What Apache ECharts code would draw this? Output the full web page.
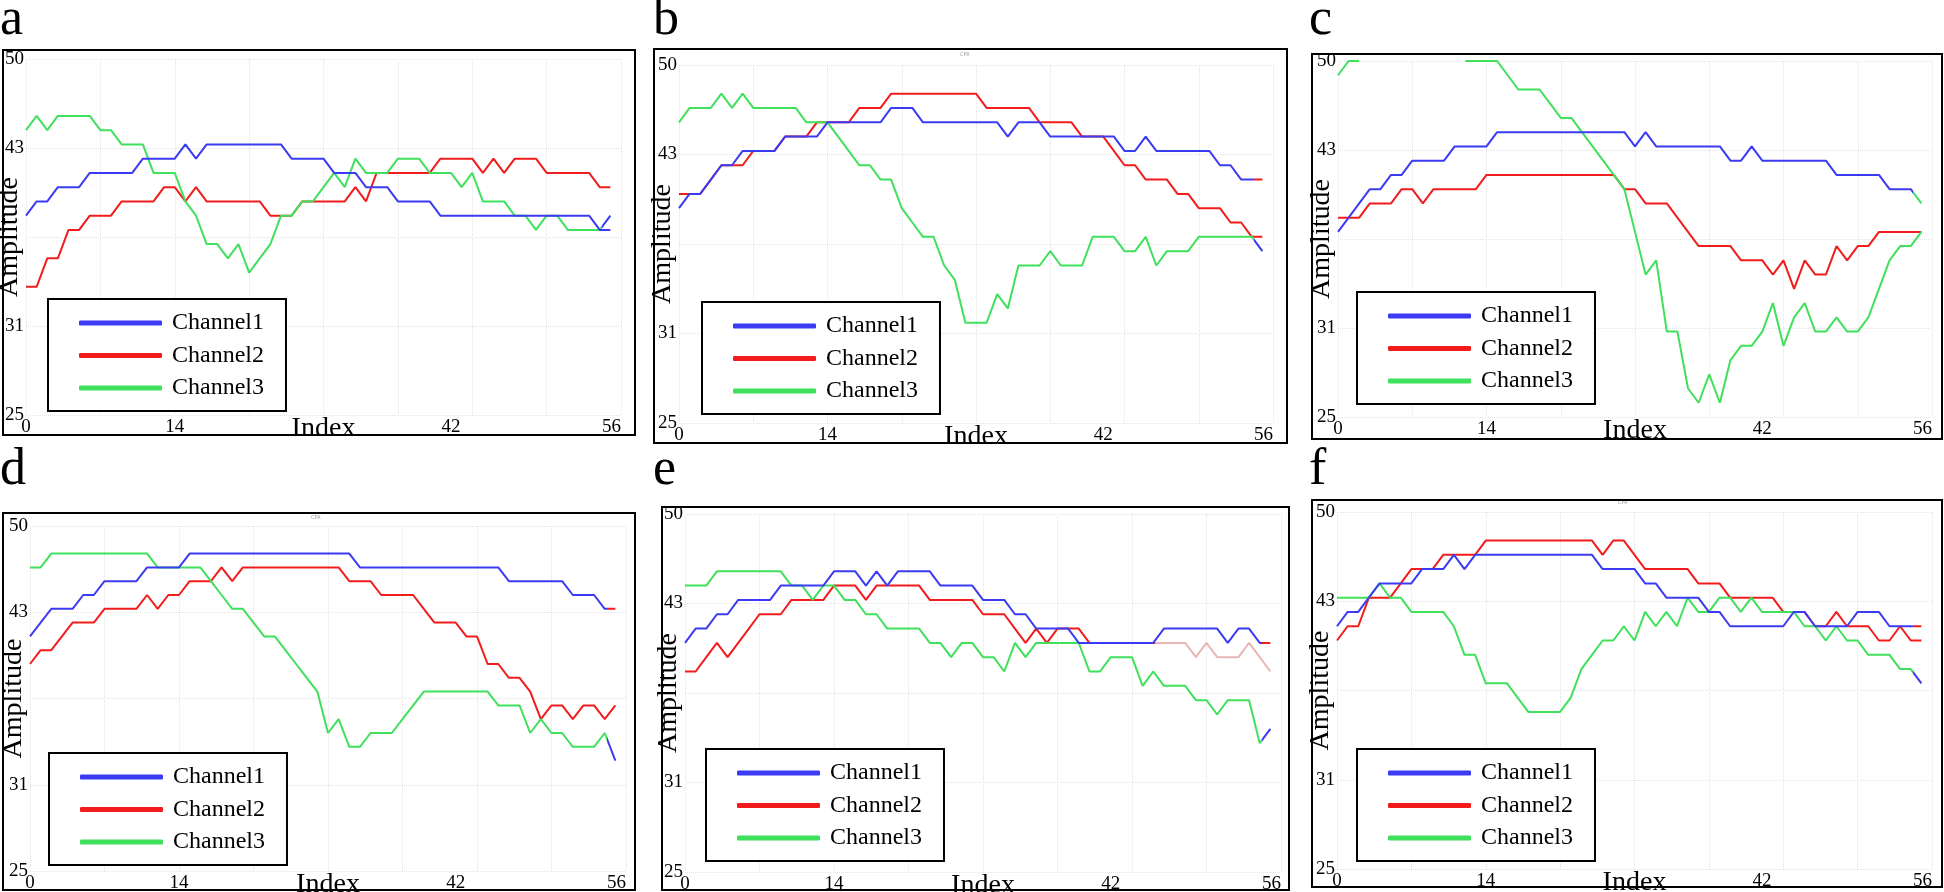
<!DOCTYPE html>
<html><head><meta charset="utf-8">
<script src="https://cdn.jsdelivr.net/npm/echarts@6/dist/echarts.min.js"></script>
<style>html,body{margin:0;padding:0;background:#fff}#c{width:1944px;height:892px}</style>
</head><body><div id="c"></div>
<script>
// ---------- data ----------
const CHANNELS = ['Channel1', 'Channel2', 'Channel3'];
const PANEL_LETTERS = ['a', 'b', 'c', 'd', 'e', 'f'];
const X_TICK_VALUES = [0, 14, 40, 56];
const X_TICK_LABELS = ['0', '14', '42', '56'];
const Y_TICK_VALUES = [25, 31.25, 43.75, 50];
const Y_TICK_LABELS = ['25', '31', '43', '50'];

const A1 = [39,40,40,41,41,41,42,42,42,42, 42,43,43,43,43,44,43,44,44,44, 44,44,44,44,44,43,43,43,43,42, 42,42,41,41,41,40,40,40,40,39, 39,39,39,39,39,39,39,39,39,39, 39,39,39,39,38,38];
const A2 = [34,34,36,36,38,38,39,39,39,40, 40,40,40,41,41,40,41,40,40,40, 40,40,40,39,39,39,40,40,40,40, 40,41,40,42,42,42,42,42,42,43, 43,43,43,42,43,42,43,43,43,42, 42,42,42,42,41,41];
const A3 = [45,46,45,46,46,46,46,45,45,44, 44,44,42,42,42,40,39,37,37,36, 37,35,36,37,39,39,40,40,41,42, 41,43,42,42,42,43,43,43,42,42, 42,41,42,40,40,40,39,39,38,39, 39,38,38,38,38,39];

const B1 = [40,41,41,42,43,43,44,44,44,44, 45,45,45,45,46,46,46,46,46,46, 47,47,47,46,46,46,46,46,46,46, 46,45,46,46,46,45,45,45,45,45, 45,45,44,44,45,44,44,44,44,44, 44,43,43,42,42,42];
const B2 = [41,41,41,42,43,43,43,44,44,44, 45,45,45,46,46,46,46,47,47,47, 48,48,48,48,48,48,48,48,48,47, 47,47,47,47,46,46,46,46,45,45, 45,44,43,43,42,42,42,41,41,40, 40,40,39,39,38,38];
const B3 = [46,47,47,47,48,47,48,47,47,47, 47,47,46,46,46,45,44,43,43,42, 42,40,39,38,38,36,35,32,32,32, 34,33,36,36,36,37,36,36,36,38, 38,38,37,37,38,36,37,37,37,38, 38,38,38,38,38,37];

const C1 = [38,39,40,41,41,42,42,43,43,43, 43,44,44,44,44,45,45,45,45,45, 45,45,45,45,45,45,45,45,44,45, 44,44,44,44,44,44,44,43,43,44, 43,43,43,43,43,43,43,42,42,42, 42,42,41,41,41,40];
const C2 = [39,39,39,40,40,40,41,41,40,41, 41,41,41,41,42,42,42,42,42,42, 42,42,42,42,42,42,42,41,41,40, 40,40,39,38,37,37,37,37,36,36, 36,35,36,34,36,35,35,37,36,37, 37,38,38,38,38,38];
// values above the top of the axis are not visible in the picture
const C3 = [49,50,50,null,null,null,null,null,null,null, null,null,50,50,50,50,49,48,48,48, 47,46,46,45,44,43,42,41,38,35, 36,31,31,27,26,28,26,29,30,30, 31,33,30,32,33,31,31,32,31,31, 32,34,36,37,37,38];

const D1 = [42,43,44,44,44,45,45,46,46,46, 46,47,47,47,47,48,48,48,48,48, 48,48,48,48,48,48,48,48,48,48, 48,47,47,47,47,47,47,47,47,47, 47,47,47,47,47,46,46,46,46,46, 46,45,45,45,44,44];
const D2 = [40,41,41,42,43,43,43,44,44,44, 44,45,44,45,45,46,46,46,47,46, 47,47,47,47,47,47,47,47,47,47, 46,46,46,45,45,45,45,44,43,43, 43,42,42,40,40,39,39,38,36,37, 37,36,37,37,36,37];
const D3 = [47,47,48,48,48,48,48,48,48,48, 48,48,47,47,47,47,47,46,45,44, 44,43,42,42,41,40,39,38,35,36, 34,34,35,35,35,36,37,38,38,38, 38,38,38,38,37,37,37,35,36,35, 35,34,34,34,35,33];

const E1 = [41,42,42,43,43,44,44,44,44,45, 45,45,45,45,46,46,46,45,46,45, 46,46,46,46,45,45,45,45,44,44, 44,43,43,42,42,42,42,41,41,41, 41,41,41,41,41,42,42,42,42,42, 42,41,42,42,41,41];
const E2 = [39,39,40,41,40,41,42,43,43,43, 44,44,44,44,45,45,45,44,45,45, 45,45,45,44,44,44,44,44,43,43, 43,42,41,42,41,42,42,42,41,41, 41,41,41,41,41,41,41,41,40,41, 40,40,40,41,40,39];
const E3 = [45,45,45,46,46,46,46,46,46,46, 45,45,44,45,45,44,44,43,43,42, 42,42,42,41,41,40,41,41,40,40, 39,41,40,41,41,41,41,41,39,39, 40,40,40,38,39,38,38,38,37,37, 36,37,37,37,34,35];

const F1 = [42,43,43,44,45,45,45,45,46,46, 46,47,46,47,47,47,47,47,47,47, 47,47,47,47,47,46,46,46,46,45, 45,44,44,44,44,43,43,42,42,42, 42,42,42,43,43,42,42,42,42,43, 43,43,42,42,42,42];
const F2 = [41,42,42,44,44,44,45,46,46,46, 47,47,47,47,48,48,48,48,48,48, 48,48,48,48,48,47,48,48,47,46, 46,46,46,46,45,45,45,44,44,44, 44,44,43,43,43,42,42,43,42,42, 42,41,41,42,41,41];
const F3 = [44,44,44,44,45,44,44,43,43,43, 43,42,40,40,38,38,38,37,36,36, 36,36,37,39,40,41,41,42,41,43, 42,43,42,44,43,43,44,44,43,44, 43,43,43,43,42,42,41,42,41,41, 40,40,40,39,39,38];

const PANEL_DATA = [[A1,A2,A3],[B1,B2,B3],[C1,C2,C3],[D1,D2,D3],[E1,E2,E3],[F1,F2,F3]];

// ---------- styling / layout ----------
const COLORS = ['#3b3bf3', '#f21c1c', '#3fe05c'];
const FADED_RED = '#e8b6b6';
const FONT = 'Liberation Serif';
const LAYOUT = [
  {grid:[26,59,595,356],  frame:[3,50,632,385],   legend:[48,299],  letter:[0,-6],   cfr:null},
  {grid:[679,65,594,358], frame:[654,49,633,394], legend:[702,302], letter:[653,-6], cfr:[960,52]},
  {grid:[1338,61,594,356],frame:[1312,54,630,385],legend:[1357,292],letter:[1309,-6],cfr:null},
  {grid:[30,526,596,345], frame:[3,513,632,377],  legend:[49,753],  letter:[0,444],  cfr:[311,515]},
  {grid:[685,514,596,358],frame:[662,507,627,383],legend:[706,749], letter:[653,444],cfr:null},
  {grid:[1337,512,595,357],frame:[1312,500,630,387],legend:[1357,749],letter:[1309,444],cfr:[1618,500]}
];
// colour index used for the final segment of each channel, as rendered in the original
const LAST_SEGMENT_COLOR = [[0,1,0],[1,1,0],[2,1,2],[1,1,0],[1,1,0],[1,1,0]];
// panel e, Channel2 turns pale from this index onward
const FADE_PANEL = 4, FADE_CHANNEL = 1, FADE_FROM = 44;

function hGradient(stops) {
  return {type:'linear', x:0, y:0, x2:1, y2:0, colorStops:stops};
}

const grids = [], xAxes = [], yAxes = [], series = [], legends = [], titles = [], graphics = [];
const splitLine = {show:true, lineStyle:{color:'#e4e4e4', width:1, type:'dotted'}};

LAYOUT.forEach((L, p) => {
  grids.push({left:L.grid[0], top:L.grid[1], width:L.grid[2], height:L.grid[3], outerBoundsMode:'none', containLabel:false});
  xAxes.push({
    type:'value', gridIndex:p, min:0, max:56, interval:7,
    axisLine:{show:false}, axisTick:{show:false}, splitLine,
    axisLabel:{
      customValues: X_TICK_VALUES,
      formatter: v => { const i = X_TICK_VALUES.indexOf(v); return i >= 0 ? X_TICK_LABELS[i] : ''; },
      color:'#000', fontFamily:FONT, fontSize:19, margin:3, alignMaxLabel:'right'
    },
    name:'Index', nameLocation:'middle', nameGap:0, nameMoveOverlap:false,
    nameTextStyle:{color:'#000', fontFamily:FONT, fontSize:28}
  });
  yAxes.push({
    type:'value', gridIndex:p, min:25, max:50, interval:6.25,
    axisLine:{show:false}, axisTick:{show:false}, splitLine,
    axisLabel:{
      formatter: v => { const i = Y_TICK_VALUES.indexOf(v); return i >= 0 ? Y_TICK_LABELS[i] : ''; },
      color:'#000', fontFamily:FONT, fontSize:19, margin:2
    },
    name:'Amplitude', nameLocation:'middle', nameGap:2, nameMoveOverlap:false,
    nameTextStyle:{color:'#000', fontFamily:FONT, fontSize:28}
  });
  PANEL_DATA[p].forEach((arr, k) => {
    const n = arr.length;
    const tail = COLORS[LAST_SEGMENT_COLOR[p][k]];
    const t = (n - 2) / (n - 1);
    let color;
    if (p === FADE_PANEL && k === FADE_CHANNEL) {
      const f = FADE_FROM / (n - 1);
      color = hGradient([{offset:0, color:COLORS[k]}, {offset:f, color:COLORS[k]},
        {offset:f, color:FADED_RED}, {offset:1, color:FADED_RED}]);
    } else if (tail !== COLORS[k]) {
      color = hGradient([{offset:0, color:COLORS[k]}, {offset:t, color:COLORS[k]},
        {offset:t, color:tail}, {offset:1, color:tail}]);
    } else {
      color = COLORS[k];
    }
    series.push({
      type:'line', name:CHANNELS[k], xAxisIndex:p, yAxisIndex:p,
      data: arr.map((v, i) => [i, v === null ? '-' : v]),
      showSymbol:false, symbol:'none', clip:true,
      lineStyle:{width:2, color:color}, itemStyle:{color:COLORS[k]},
      z: k === 0 ? 5 : (k === 2 ? 4 : 3),
      animation:false
    });
  });
  legends.push({
    orient:'vertical', left:L.legend[0], top:L.legend[1],
    padding:[12, 22, 11, 31], itemGap:8.5, itemWidth:83, itemHeight:5,
    icon:'roundRect', borderColor:'#000', borderWidth:2, backgroundColor:'#fff', z:10,
    selectedMode:false,
    data: CHANNELS.map((nm, k) => ({name:nm, itemStyle:{color:COLORS[k]}})),
    textStyle:{color:'#000', fontFamily:FONT, fontSize:24, lineHeight:24, padding:[0,0,0,5]}
  });
  titles.push({text:PANEL_LETTERS[p], left:L.letter[0], top:L.letter[1], padding:0,
    textStyle:{color:'#000', fontFamily:FONT, fontSize:52, fontWeight:'normal'}});
  if (L.cfr) titles.push({text:'CFR', left:L.cfr[0], top:L.cfr[1], padding:0,
    textStyle:{color:'#999', fontFamily:'DejaVu Sans', fontSize:5, fontWeight:'normal'}});
  graphics.push({type:'rect', z:20, silent:true,
    shape:{x:L.frame[0], y:L.frame[1], width:L.frame[2], height:L.frame[3]},
    style:{fill:'none', stroke:'#000', lineWidth:2}});
});

const chart = echarts.init(document.getElementById('c'), null, {renderer:'canvas'});
chart.setOption({
  animation:false,
  backgroundColor:'#fff',
  title:titles, grid:grids, xAxis:xAxes, yAxis:yAxes, legend:legends, series,
  graphic:{elements:graphics}
});
</script></body></html>
